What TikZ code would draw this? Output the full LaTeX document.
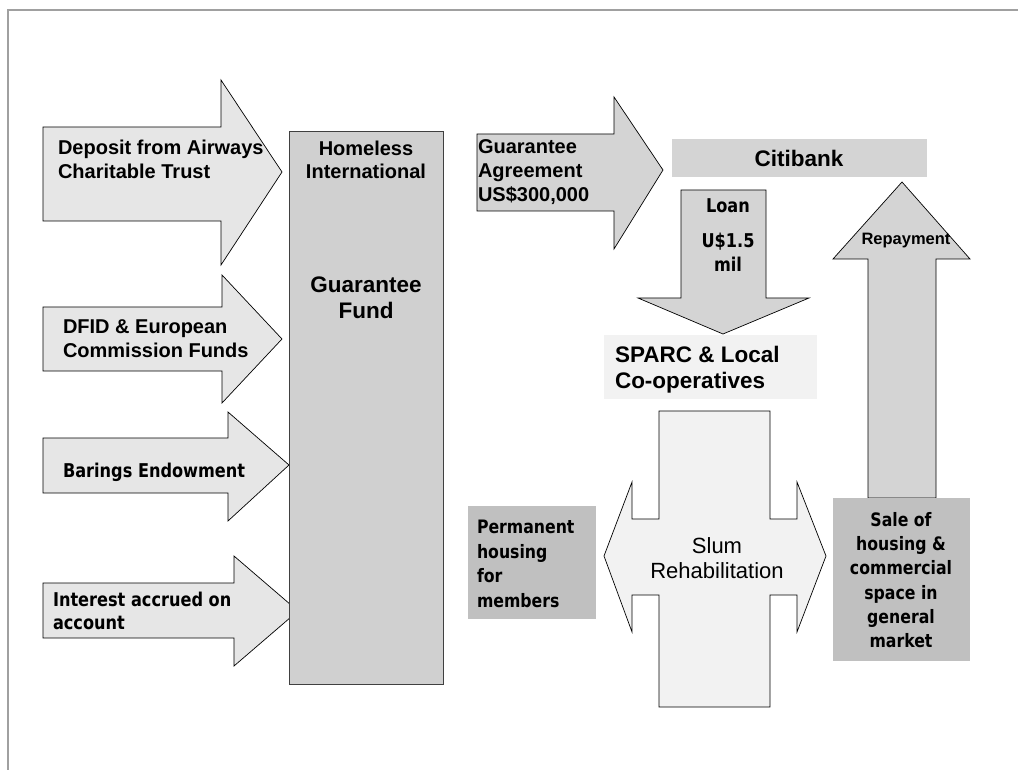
\documentclass[tikz,border=0pt]{standalone}
\usepackage{fontspec}
\setmainfont{Liberation Sans}
\newfontfamily\comicfont[FakeStretch=0.85]{DejaVu Sans}
\definecolor{lightfill}{HTML}{E6E6E6}
\definecolor{midfill}{HTML}{D4D4D4}
\definecolor{boxfill}{HTML}{D0D0D0}
\definecolor{darkfill}{HTML}{C0C0C0}
\definecolor{palefill}{HTML}{F2F2F2}
\definecolor{framegray}{HTML}{A0A0A0}
\tikzset{
  shapeline/.style={draw=black, line width=0.7pt, line join=miter},
  lightarrow/.style={shapeline, fill=lightfill},
  midarrow/.style={shapeline, fill=midfill},
  txt/.style={inner sep=0pt, outer sep=0pt},
  arb/.style={txt, font=\fontsize{20}{23}\selectfont\bfseries},
  arbig/.style={txt, font=\fontsize{22.5}{26}\selectfont\bfseries},
  arreg/.style={txt, font=\fontsize{22}{25}\selectfont},
  cmb/.style={txt, font=\fontsize{19}{22}\selectfont\comicfont\bfseries},
  cms/.style={txt, font=\fontsize{18.5}{22}\selectfont\comicfont\bfseries},
}
\begin{document}
\begin{tikzpicture}[x=1pt,y=-1pt]
\useasboundingbox (0,0) rectangle (1018,770);
% frame
\draw[framegray, line width=1.5pt] (8,770) -- (8,10) -- (1018,10);

% input arrows
\path[lightarrow] (43,127) -- (221,127) -- (221,80) -- (282,172) -- (221,265) -- (221,221) -- (43,221) -- cycle;
\path[lightarrow] (43,307) -- (222,307) -- (222,275) -- (282,339) -- (222,403) -- (222,371) -- (43,371) -- cycle;
\path[lightarrow] (43,438) -- (228,438) -- (228,412) -- (289,465) -- (228,521) -- (228,493) -- (43,493) -- cycle;
\path[lightarrow] (43,583) -- (234,583) -- (234,556) -- (298,611) -- (234,666) -- (234,638) -- (43,638) -- cycle;

% Homeless International box
\path[draw=black!75, line width=0.8pt, fill=boxfill] (289,131) rectangle (443,684);

% guarantee agreement arrow
\path[midarrow] (477,134) -- (614,134) -- (614,97) -- (663,170) -- (614,249) -- (614,211) -- (477,211) -- cycle;

% Citibank
\path[fill=midfill] (672,139) rectangle (927,177);

% loan arrow
\path[midarrow] (681,190) -- (766,190) -- (766,298) -- (809,298) -- (723,334) -- (638,298) -- (681,298) -- cycle;

% SPARC
\path[fill=palefill] (604,335) rectangle (817,399);

% repayment arrow
\path[midarrow] (902,182) -- (970,259) -- (936,259) -- (936,498) -- (868,498) -- (868,259) -- (833,259) -- cycle;

% sale box and permanent box
\path[fill=darkfill] (833,498) rectangle (970,661);
\path[fill=darkfill] (468,506) rectangle (596,619);

% slum rehabilitation shape
\path[shapeline, fill=palefill] (659,411) -- (770,411) -- (770,519) -- (797,519) -- (797,482) -- (826,556) -- (797,632) -- (797,595) -- (770,595) -- (770,707) -- (659,707) -- (659,595) -- (632,595) -- (632,632) -- (604,556) -- (632,482) -- (632,519) -- (659,519) -- cycle;

% texts
\node[arb, anchor=base west] (dep1) at (58,155) {Deposit from Airways};
\node[arb, anchor=base west] (dep2) at (58,179) {Charitable Trust};
\node[arb, anchor=base west] (dfid1) at (63,334) {DFID \& European};
\node[arb, anchor=base west] (dfid2) at (63,357) {Commission Funds};
\node[cmb, anchor=base west] (bar1) at (63,477) {Barings Endowment};
\node[cmb, anchor=base west] (int1) at (53,606) {Interest accrued on};
\node[cmb, anchor=base west] (int2) at (53,629) {account};

\node[arb, anchor=base] (hi1) at (366,156) {Homeless};
\node[arb, anchor=base] (hi2) at (366,179) {International};
\node[arbig, anchor=base] (gf1) at (366,293) {Guarantee};
\node[arbig, anchor=base] (gf2) at (366,318) {Fund};

\node[arb, anchor=base west] (ga1) at (478,154) {Guarantee};
\node[arb, anchor=base west] (ga2) at (478,178) {Agreement};
\node[arb, anchor=base west] (ga3) at (478,202) {US\$300,000};

\node[arbig, anchor=base] (citi) at (799,167) {Citibank};

\node[cmb, anchor=base] (loan1) at (728,213) {Loan};
\node[cmb, anchor=base] (loan2) at (728,248) {U\$1.5};
\node[cmb, anchor=base] (loan3) at (728,272) {mil};

\node[txt, font=\fontsize{16.5}{20}\selectfont\bfseries, anchor=base] (rep) at (906,245) {Repayment};

\node[arbig, anchor=base west] (sp1) at (615,362) {SPARC \& Local};
\node[arbig, anchor=base west] (sp2) at (615,388) {Co-operatives};

\node[arreg, anchor=base] (sl1) at (717,553) {Slum};
\node[arreg, anchor=base] (sl2) at (717,578) {Rehabilitation};

\node[cms, anchor=base west] (pm1) at (477,533) {Permanent};
\node[cms, anchor=base west] (pm2) at (477,558) {housing};
\node[cms, anchor=base west] (pm3) at (477,582) {for};
\node[cms, anchor=base west] (pm4) at (477,607) {members};

\node[cms, anchor=base] (sa1) at (901,526) {Sale of};
\node[cms, anchor=base] (sa2) at (901,550) {housing \&};
\node[cms, anchor=base] (sa3) at (901,574) {commercial};
\node[cms, anchor=base] (sa4) at (901,599) {space in};
\node[cms, anchor=base] (sa5) at (901,623) {general};
\node[cms, anchor=base] (sa6) at (901,647) {market};
\end{tikzpicture}
\end{document}
